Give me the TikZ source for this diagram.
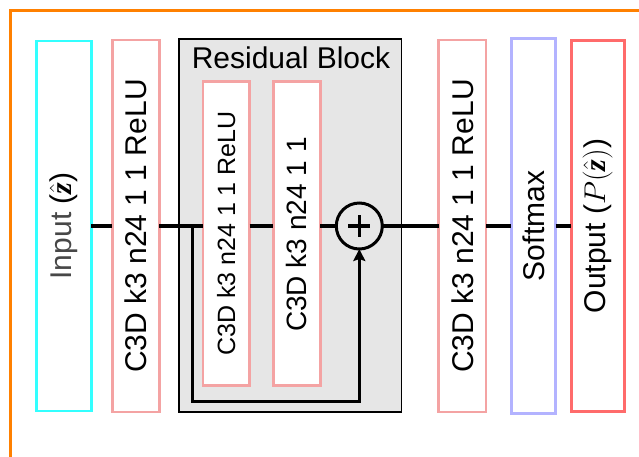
\RequirePackage{fix-cm}
\documentclass[tikz,border=0pt]{standalone}
\usepackage{amsmath}
\usepackage{fontspec}
\setmainfont{Liberation Sans}
\setsansfont{Liberation Sans}
\newfontfamily\zserif{Liberation Serif}
\newcommand{\boldz}{\text{\zserif\bfseries\itshape z}}
\usetikzlibrary{arrows.meta}
\definecolor{cyanb}{HTML}{33FFFF}
\definecolor{pinkb}{HTML}{F4A3A3}
\definecolor{softb}{HTML}{B3B3FF}
\definecolor{outb}{HTML}{FF6B6B}
\definecolor{orangef}{HTML}{FF8000}
\definecolor{resfill}{HTML}{E6E6E6}
\begin{document}
\begin{tikzpicture}[x=1pt,y=-1pt,
  layer/.style={draw, line width=2.9pt, fill=white, inner sep=0pt, outer sep=0pt},
  lbl/.style={rotate=90, inner sep=0pt, font=\fontsize{30}{36}\selectfont},
  lblsmall/.style={rotate=90, inner sep=0pt, font=\fontsize{25}{30}\selectfont},
  lblmid/.style={rotate=90, inner sep=0pt, font=\fontsize{28}{34}\selectfont},
  conn/.style={draw=black, line width=3.2pt},
  skip/.style={draw=black, line width=2.4pt}]
\useasboundingbox (0,0) rectangle (639,456);
% frame
\draw[orangef, line width=2.8pt] (10.7,460) -- (10.7,10.5) -- (645,10.5);
% residual block background
\node[draw, line width=1.6pt, fill=resfill, inner sep=0pt, minimum width=222.5, minimum height=373] (res) at (290.2,225.7) {};
\node[anchor=base, inner sep=0pt, font=\fontsize{30}{36}\selectfont] (restitle) at (291,68) {Residual Block};
% boxes
\node[layer, draw=cyanb, minimum width=55, minimum height=370] (inp) at (63.8,226) {};
\node[layer, draw=pinkb, minimum width=47, minimum height=372] (c1) at (135.8,226) {};
\node[layer, draw=pinkb, minimum width=46.7, minimum height=304] (in1) at (226.3,233.5) {};
\node[layer, draw=pinkb, minimum width=47, minimum height=304] (in2) at (296.8,233.5) {};
\node[layer, draw=pinkb, minimum width=47.4, minimum height=372] (c2) at (462.3,226) {};
\node[layer, draw=softb, minimum width=44.4, minimum height=374.7] (sm) at (533.5,226) {};
\node[layer, draw=outb, minimum width=52.9, minimum height=371.8] (out) at (597.7,226) {};
\node[draw, line width=3pt, circle, fill=resfill, minimum size=46, inner sep=0pt, outer sep=0pt] (add) at (359.3,226) {};
\draw[line width=3.2pt] (add.center) ++(-11,0) -- ++(22,0) (add.center) ++(0,-11) -- ++(0,22);
% labels
\node[lbl] (inpT) at (inp.center) {\textcolor{black!72}{Input} ($\hat{\boldz}$)};
\node[lbl] (c1T) at (c1.center) {C3D k3 n24 1 1 ReLU};
\node[lblsmall] (in1T) at (in1.center) {C3D k3 n24 1 1 ReLU};
\node[lblmid] (in2T) at ([yshift=-1]in2.center) {C3D k3 n24 1 1};
\node[lbl] (c2T) at (c2.center) {C3D k3 n24 1 1 ReLU};
\node[lbl] (smT) at (sm.center) {Softmax};
\node[lbl] (outT) at (out.center) {Output ($P(\hat{\boldz})$)};
% connectors
\draw[conn] (inp.east) -- (c1.west);
\draw[conn] (c1.east) -- (c1.east -| in1.west);
\draw[conn] (in1.east |- c1.east) -- (in2.west |- c1.east);
\draw[conn] (in2.east |- c1.east) -- (add.west);
\draw[conn] (add.east) -- (c2.west);
\draw[conn] (c2.east) -- (sm.west);
\draw[conn] (sm.east) -- (out.west);
\coordinate (br) at (192.5,226);
\coordinate (skb) at (359.3,401.5);
\draw[skip, -{Stealth[length=12pt,width=12pt,inset=2pt]}] (br) |- (skb) -- (add.south);
\end{tikzpicture}
\end{document}
